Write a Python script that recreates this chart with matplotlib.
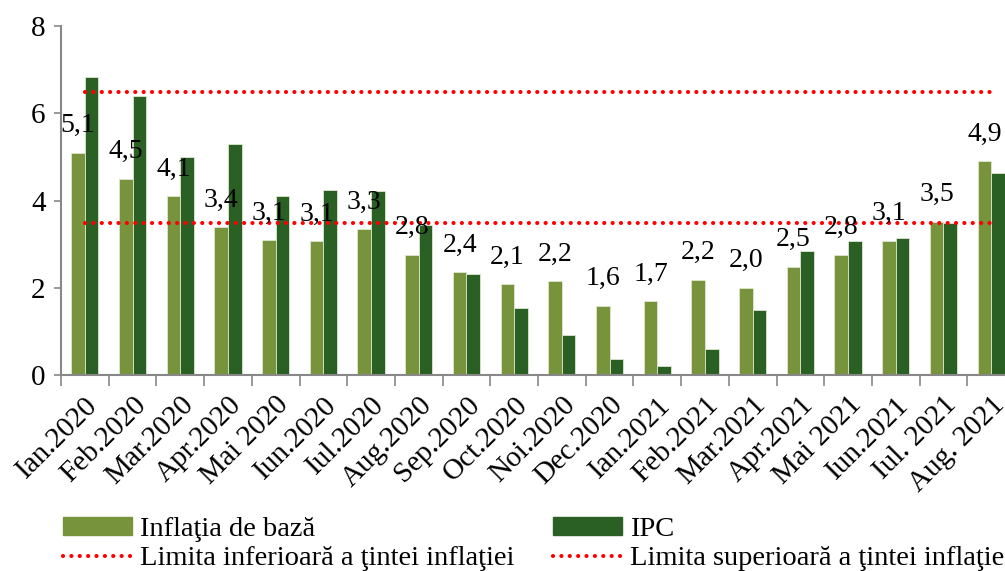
import matplotlib.pyplot as plt
import numpy as np
from matplotlib.patches import Patch
from matplotlib.lines import Line2D

plt.rcParams["font.family"] = ["Liberation Serif", "DejaVu Serif"]

luni = ["Ian.2020", "Feb.2020", "Mar.2020", "Apr.2020", "Mai 2020", "Iun.2020",
        "Iul.2020", "Aug.2020", "Sep.2020", "Oct.2020", "Noi.2020", "Dec.2020",
        "Ian.2021", "Feb.2021", "Mar.2021", "Apr.2021", "Mai 2021", "Iun.2021",
        "Iul. 2021", "Aug. 2021"]
inflatia_baza = [5.10, 4.50, 4.10, 3.39, 3.10, 3.07, 3.34, 2.76, 2.36, 2.09,
                 2.16, 1.59, 1.69, 2.19, 2.00, 2.49, 2.76, 3.08, 3.52, 4.90]
ipc = [6.84, 6.41, 5.00, 5.30, 4.10, 4.25, 4.23, 3.44, 2.32, 1.55,
       0.91, 0.37, 0.20, 0.60, 1.49, 2.84, 3.08, 3.15, 3.50, 4.63]
limita_inf = 3.5
limita_sup = 6.5

c_baza = "#77933C"
c_ipc = "#2A6024"
dots = (0, (0.01, 2.0))

fig = plt.figure(figsize=(10.05, 5.71), dpi=100)
ax = fig.add_axes([0.0607, 0.343, 0.9493, 0.611])

x = np.arange(len(luni))
w = 0.285
ax.bar(x - w / 2, inflatia_baza, w, color=c_baza, edgecolor="#dfe6d0", linewidth=0.6)
ax.bar(x + w / 2, ipc, w, color=c_ipc, edgecolor="#dfe6d0", linewidth=0.6)

# limitele tintei
ax.plot([x[0], x[-1]], [limita_sup, limita_sup], color="red", linestyle=dots,
        linewidth=3, dash_capstyle="round")
ax.plot([x[0], x[-1]], [limita_inf, limita_inf], color="red", linestyle=dots,
        linewidth=3, dash_capstyle="round")

for xi, v in zip(x, inflatia_baza):
    ax.text(xi - w / 2, v + 0.62, f"{v:.1f}".replace(".", ","), ha="center",
            va="center", fontsize=20)

ax.set_xlim(-0.5, len(luni) - 0.5)
ax.set_ylim(0, 8)
ax.set_yticks([0, 2, 4, 6, 8])
ax.tick_params(axis="y", labelsize=21, length=5, color="#888888", width=1.2, pad=6)
ax.set_xticks(x - 0.5, minor=False)
ax.set_xticklabels([])
ax.set_xticks(x, minor=True)
ax.set_xticklabels(luni, minor=True, rotation=45, ha="right", rotation_mode="anchor",
                   fontsize=21)
ax.tick_params(axis="x", which="major", length=8, color="#888888", width=1.2)
ax.tick_params(axis="x", which="minor", length=0, pad=12)

for s in ["top", "right"]:
    ax.spines[s].set_visible(False)
for s in ["left", "bottom"]:
    ax.spines[s].set_color("#888888")
    ax.spines[s].set_linewidth(1.5)

handles = [
    Patch(color=c_baza, label="Inflaţia de bază"),
    Line2D([], [], color="red", linestyle=dots, linewidth=3,
           dash_capstyle="round", label="Limita inferioară a ţintei inflaţiei"),
    Patch(color=c_ipc, label="IPC"),
    Line2D([], [], color="red", linestyle=dots, linewidth=3,
           dash_capstyle="round", label="Limita superioară a ţintei inflaţiei"),
]
fig.legend(handles=handles, ncol=2, loc="upper left", bbox_to_anchor=(0.049, 0.12),
           frameon=False, fontsize=20.5, handlelength=2.4, handleheight=0.6,
           handletextpad=0.3, columnspacing=1.35, labelspacing=0.15, borderpad=0)

fig.savefig("out.png", dpi=100)
